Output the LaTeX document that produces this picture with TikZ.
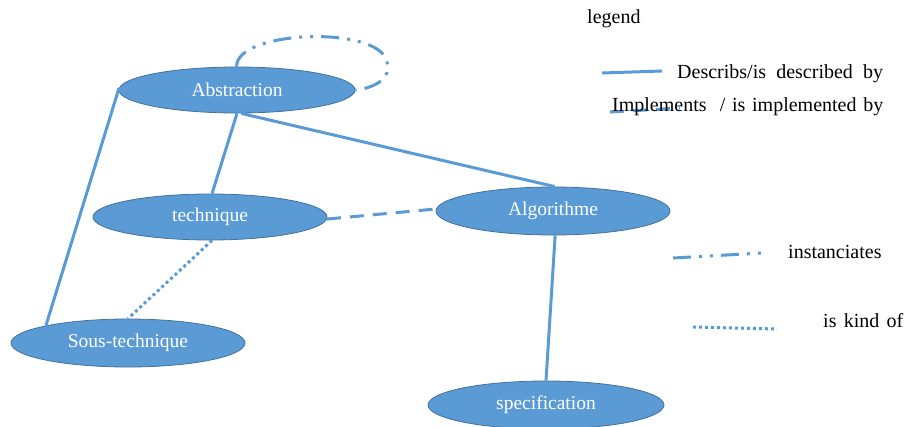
\documentclass[tikz,border=0pt]{standalone}
\usepackage{fontspec}
\setmainfont{Liberation Serif}
\usetikzlibrary{shapes.geometric}
\definecolor{obl}{HTML}{5B9BD5}
\definecolor{obd}{HTML}{41719C}
\tikzset{
  concept/.style={ellipse, draw=obd, line width=0.8pt, fill=obl, text=white, inner sep=0pt,
    font=\fontsize{19.5}{23}\selectfont},
  rel/.style={draw=obl, line width=3pt},
  relsolid/.style={rel},
  reldash/.style={rel, dash pattern=on 14pt off 9pt},
  reldot/.style={rel, dash pattern=on 3pt off 3pt},
  relinst/.style={rel, dash pattern=on 18pt off 8pt on 3pt off 8pt on 3pt off 8pt},
  legtext/.style={anchor=base west, inner sep=0pt, font=\fontsize{20}{24}\selectfont, text=black}
}
\begin{document}
\begin{tikzpicture}[x=1pt,y=-1pt]
\useasboundingbox (0,0) rectangle (904,426);
% concepts
\node[concept, minimum width=236pt, minimum height=46pt] (abs) at (237,90) {Abstraction};
\node[concept, minimum width=234pt, minimum height=46pt] (tech) at (210,217) {technique};
\node[concept, minimum width=234pt, minimum height=48pt] (algo) at (553,211) {Algorithme};
\node[concept, minimum width=234pt, minimum height=48pt] (sous) at (128,343) {Sous-technique};
\node[concept, minimum width=236pt, minimum height=48pt] (spec) at (546,405) {specification};
% connectors
\draw[relsolid] (abs.179) -- (sous.168.6);
\draw[relsolid] (abs.270) -- (tech.85);
\draw[relsolid] (abs.280) -- (algo.86);
\draw[reldash] (tech.359) -- (algo.179);
\draw[reldot] (tech.275) -- (sous.90);
\draw[relsolid] (algo.275) -- (spec.90);
\draw[relinst] (abs.91) .. controls (236,30) and (380,25) .. (387,62) .. controls (392,78) and (375,88) .. (abs.0);
% legend
\node[legtext] (leg) at (587,23) {legend};
\coordinate (l1a) at (602,73); \coordinate (l1b) at (662,71);
\draw[relsolid] (l1a) -- (l1b);
\node[legtext] (t1) at (677,78) {\makebox[206pt][s]{Describs/is described by}};
\coordinate (l2a) at (610,112); \coordinate (l2b) at (680,108);
\draw[reldash] (l2a) -- (l2b);
\node[legtext] (t2) at (612,111) {\makebox[271pt][s]{Implements \ / is implemented by}};
\coordinate (l3a) at (673,258); \coordinate (l3b) at (762,253);
\draw[relinst] (l3a) -- (l3b);
\node[legtext] (t3) at (788,258) {instanciates};
\coordinate (l4a) at (693,327); \coordinate (l4b) at (777,329);
\draw[reldot] (l4a) -- (l4b);
\node[legtext] (t4) at (823,327) {\makebox[80pt][s]{is kind of}};
\end{tikzpicture}
\end{document}
